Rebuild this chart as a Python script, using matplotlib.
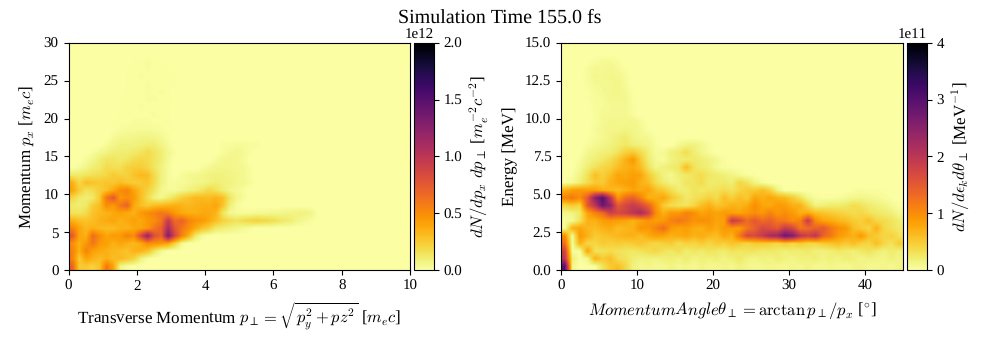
import numpy as np
from matplotlib import pyplot as plt

plt.rcParams["font.family"] = ["Liberation Serif", "DejaVu Serif"]
plt.rcParams["mathtext.fontset"] = "cm"
plt.rcParams["text.hinting"] = "no_hinting"
plt.rcParams["text.hinting_factor"] = 1
plt.rcParams["xtick.labelsize"] = 10.5
plt.rcParams["ytick.labelsize"] = 10.5

# top row first, px from 27 down to 0 in steps of 1, pperp steps of 0.2, units of 1e10
momentum_rows = [
    [0] * 9 + [1, 1, 2, 1, 1],
    [0] * 8 + [1, 1, 1, 2, 1, 1, 1],
    [0] * 8 + [1, 1, 2, 1, 1, 1, 1, 1],
    [0] * 8 + [1, 1, 1, 2, 1, 1, 1, 1],
    [0] * 8 + [1, 1, 1, 2, 1, 2, 1],
    [0] * 7 + [1, 1, 1, 1, 2, 2, 1, 1, 1],
    [0] * 7 + [1, 1, 1, 2, 1, 1, 1, 1],
    [0] * 7 + [1, 1, 1, 1, 1, 2, 1, 1],
    [0] * 6 + [1, 1, 1, 2, 2, 2, 1, 1, 1],
    [0] * 6 + [1, 2, 3, 3, 3, 3, 3, 2, 1, 1],
    [0] * 6 + [3, 5, 5, 6, 7, 7, 6, 4, 2],
    [0] * 5 + [3, 6, 8, 8, 8, 9, 10, 10, 7, 3, 0, 0, 0, 0, 0, 0, 0, 2, 2, 3, 3, 2, 2],
    [0] * 3 + [2, 5, 7, 10, 10, 10, 12, 14, 18, 14, 10, 5, 2, 0, 0, 0, 0, 0, 0, 2, 4, 5, 4, 2],
    [0] * 2 + [3, 6, 10, 14, 14, 12, 14, 18, 20, 18, 14, 10, 4, 0, 0, 0, 0, 0, 0, 3, 5, 6, 5, 3],
    [0, 3, 6, 10, 12, 18, 16, 16, 22, 24, 24, 20, 14, 8, 3, 0, 0, 0, 0, 2, 4, 6, 6, 6, 5, 4, 2],
    [12, 12, 14, 16, 18, 20, 25, 22, 22, 28, 32, 30, 18, 8, 3, 0, 3, 4, 5, 6, 8, 8, 8, 7, 6, 4, 2],
    [35, 20, 30, 28, 25, 28, 26, 30, 26, 24, 25, 28, 18, 8, 3, 3, 3, 4, 6, 6, 8, 10, 8, 8, 6, 5, 3],
    [40, 25, 15, 18, 24, 28, 38, 50, 55, 40, 30, 22, 14, 5, 3, 3, 5, 8, 10, 14, 20, 15, 10, 6, 4, 2],
    [20, 12, 10, 12, 25, 60, 75, 45, 50, 45, 30, 18, 8, 5, 10, 16, 24, 28, 32, 32, 30, 34, 30, 14, 6, 3],
    [12, 10, 12, 25, 30, 50, 45, 60, 70, 38, 30, 25, 30, 32, 34, 36, 34, 32, 34, 36, 36, 40, 28, 10, 3],
    [15, 14, 18, 28, 32, 34, 38, 42, 38, 35, 45, 50, 55, 60, 55, 45, 38, 36, 36, 38, 38, 34, 14, 4, 3, 3, 3, 4, 4, 5, 5, 6, 7, 8, 8, 6],
    [35, 30, 28, 30, 35, 38, 40, 35, 38, 42, 38, 45, 50, 60, 95, 65, 70, 55, 48, 45, 38, 30, 22, 18, 15, 18, 20, 22, 20, 18, 15, 12, 10, 6, 4, 2],
    [55, 40, 32, 35, 32, 30, 30, 35, 34, 38, 40, 45, 60, 70, 110, 75, 60, 50, 38, 28, 22, 12, 10, 8, 6, 4, 2],
    [75, 40, 35, 65, 50, 40, 45, 45, 55, 50, 85, 120, 80, 70, 130, 85, 55, 35, 12, 3],
    [50, 35, 45, 60, 45, 42, 35, 40, 35, 32, 38, 50, 48, 45, 40, 22, 4],
    [55, 35, 55, 42, 38, 35, 32, 30, 28, 35, 34, 28, 14, 4],
    [55, 25, 40, 35, 30, 35, 30, 32, 28, 22, 8, 2],
    [70, 25, 25, 22, 28, 60, 40, 6, 2],
]
momentum_vmax = 200

# top row first, energy from 13.5 down to 0 in steps of 0.5, angle steps of 1 degree, units of 1e9
angle_rows = [
    [0] * 4 + [4, 7, 7, 4],
    [0] * 3 + [5, 9, 8, 10, 7, 2],
    [0] * 3 + [5, 10, 9, 12, 10, 6],
    [0] * 3 + [4, 8, 8, 10, 12, 6],
    [0] * 3 + [2, 6, 8, 10, 12, 8, 2],
    [0] * 3 + [2, 6, 6, 10, 10, 10, 2],
    [0] * 4 + [4, 6, 8, 8, 8, 4],
    [0] * 4 + [4, 8, 8, 8, 10, 4],
    [0] * 4 + [4, 8, 12, 10, 10, 12, 6],
    [0] * 4 + [6, 10, 12, 12, 14, 12, 8, 2],
    [0] * 3 + [2, 5, 8, 14, 18, 22, 14, 10, 8, 3],
    [0] * 3 + [4, 8, 12, 16, 20, 25, 18, 16, 12, 4, 0, 0, 8, 14, 16, 10, 4],
    [0] * 3 + [10, 14, 18, 20, 30, 45, 50, 35, 18, 6, 8, 18, 22, 35, 20, 12, 5],
    [0] * 2 + [5, 14, 20, 25, 35, 50, 70, 90, 50, 22, 8, 5, 16, 20, 22, 24, 20, 16, 10, 4],
    [0] * 2 + [8, 20, 30, 40, 45, 60, 70, 75, 60, 30, 12, 18, 22, 26, 60, 30, 22, 18, 8, 4, 3, 2],
    [0, 3, 14, 30, 60, 45, 60, 80, 75, 85, 80, 50, 30, 15, 10, 20, 24, 30, 35, 26, 22, 18, 14, 8, 4, 2],
    [3, 8, 18, 35, 50, 50, 70, 80, 85, 90, 70, 60, 35, 22, 14, 16, 28, 28, 35, 22, 24, 25, 20, 40, 30, 14, 5],
    [70, 85, 90, 85, 85, 70, 65, 60, 70, 80, 75, 80, 60, 50, 35, 20, 20, 30, 25, 28, 30, 35, 30, 40, 50, 50, 60, 45, 15, 0, 0, 0, 0, 0, 0, 0, 0, 0, 3, 4, 3, 3, 2],
    [110, 120, 100, 150, 250, 300, 200, 90, 130, 140, 110, 70, 70, 80, 55, 40, 25, 30, 35, 45, 35, 60, 45, 60, 50, 80, 70, 80, 70, 65, 50, 30, 12, 5, 3, 3, 4, 8, 10, 12, 10, 8, 5, 2, 0],
    [40, 50, 40, 150, 200, 280, 240, 150, 170, 190, 170, 140, 90, 50, 35, 30, 28, 40, 60, 70, 55, 60, 70, 65, 75, 100, 80, 75, 90, 85, 70, 70, 40, 15, 18, 22, 22, 25, 35, 30, 22, 18, 14, 8, 3],
    [10, 15, 25, 80, 110, 130, 180, 170, 180, 200, 220, 180, 100, 70, 90, 90, 110, 100, 80, 90, 80, 90, 85, 80, 90, 100, 90, 110, 90, 100, 90, 70, 75, 60, 55, 50, 45, 40, 35, 40, 30, 25, 22, 18, 10],
    [5, 8, 30, 70, 70, 85, 90, 85, 80, 70, 80, 95, 85, 90, 110, 120, 110, 95, 100, 95, 80, 85, 190, 170, 130, 150, 130, 140, 120, 115, 100, 110, 190, 100, 80, 75, 65, 60, 50, 45, 60, 40, 35, 30, 20],
    [5, 70, 80, 65, 60, 70, 75, 60, 65, 70, 95, 90, 110, 130, 90, 80, 85, 75, 70, 85, 75, 90, 90, 85, 120, 140, 170, 160, 150, 190, 170, 120, 130, 140, 150, 120, 100, 90, 60, 50, 40, 70, 40, 30, 25],
    [100, 5, 90, 70, 50, 55, 60, 65, 70, 70, 60, 75, 85, 80, 70, 75, 80, 70, 75, 65, 60, 80, 70, 120, 170, 170, 190, 220, 230, 280, 260, 200, 180, 200, 140, 120, 90, 80, 70, 90, 60, 50, 40, 45, 30],
    [130, 5, 70, 40, 40, 50, 45, 50, 45, 50, 55, 45, 40, 45, 50, 35, 45, 40, 50, 40, 50, 45, 55, 50, 40, 50, 50, 45, 40, 50, 40, 50, 40, 40, 50, 55, 60, 50, 60, 45, 40, 60, 40, 30, 50],
    [180, 5, 3, 80, 30, 30, 35, 30, 28, 25, 30, 35, 40, 30, 25, 35, 20, 28, 22, 30, 25, 22, 30, 25, 30, 28, 22, 25, 22, 18, 22, 20, 25, 18, 16, 20, 25, 22, 18, 25, 30, 22, 16, 22, 18],
    [200, 20, 3, 10, 70, 50, 60, 35, 30, 20, 16, 18, 15, 18, 20, 15, 22, 14, 18, 16, 20, 14, 18, 25, 16, 12, 18, 14, 20, 16, 12, 18, 16, 20, 14, 18, 14, 20, 18, 12, 16, 14, 12, 18, 14],
    [300, 10, 0, 2, 2, 30, 50, 60, 40, 16, 10, 12, 8, 10, 14, 10, 12, 8, 14, 10, 8, 14, 10, 16, 12, 8, 10, 12, 10, 8, 12, 10, 14, 8, 10, 12, 10, 8, 12, 14, 8, 10, 12, 8, 14],
]
angle_vmax = 400

momentum_ticks = [0, 0.5, 1.0, 1.5, 2.0]
angle_ticks = [0, 1, 2, 3, 4]


def to_grid(rows, n_rows, n_cols, unit):
    grid = np.zeros((n_rows, n_cols))
    for i, row in enumerate(rows):
        grid[len(rows) - 1 - i, :len(row)] = row
    return grid * unit


H_momentum = to_grid(momentum_rows, 30, 50, 1e10)
H_angle = to_grid(angle_rows, 30, 45, 1e9)

fig = plt.figure(figsize=(10, 3.5), dpi=100)
fig.suptitle("Simulation Time 155.0 fs", fontsize=14.5, y=0.975)

ax0 = fig.add_axes([0.0685, 0.228, 0.3415, 0.65])
cax0 = fig.add_axes([0.414, 0.228, 0.0195, 0.65])
ax1 = fig.add_axes([0.561, 0.228, 0.342, 0.65])
cax1 = fig.add_axes([0.907, 0.228, 0.0195, 0.65])

im0 = ax0.imshow(H_momentum, origin="lower", extent=[0, 10, 0, 30], aspect="auto", cmap="inferno_r",
                 vmin=0, vmax=momentum_vmax * 1e10, interpolation="bilinear")
ax0.set_xlabel(r"Transverse Momentum $p_\perp = \sqrt{p_y^2 + pz^2}$ [$m_e c$]", fontsize=11.9, labelpad=5)
ax0.set_ylabel(r"Momentum $p_x$ [$m_e c$]", fontsize=12, labelpad=5)
ax0.set_xticks([0, 2, 4, 6, 8, 10])
ax0.set_yticks([0, 5, 10, 15, 20, 25, 30])
cb0 = fig.colorbar(im0, cax=cax0, ticks=[t * 1e12 for t in momentum_ticks])
cb0.set_label(r"$dN/dp_x\ dp_\perp$ [$m_e^{-2}c^{-2}$]", fontsize=12)

im1 = ax1.imshow(H_angle, origin="lower", extent=[0, 45, 0, 15], aspect="auto", cmap="inferno_r",
                 vmin=0, vmax=angle_vmax * 1e9, interpolation="bilinear")
ax1.set_xlabel(r"$Momentum Angle \theta_\perp = \arctan{p_\perp/p_x}$ [$^{\circ}$]", fontsize=12, labelpad=5)
ax1.set_ylabel("Energy [MeV]", fontsize=12, labelpad=5)
ax1.set_xticks([0, 10, 20, 30, 40])
ax1.set_yticks([0, 2.5, 5, 7.5, 10, 12.5, 15])
cb1 = fig.colorbar(im1, cax=cax1, ticks=[t * 1e11 for t in angle_ticks])
cb1.set_label(r"$dN/d\epsilon_k d\theta_\perp$ [MeV$^{-1}$]", fontsize=12)

for cb in [cb0, cb1]:
    cb.formatter.set_powerlimits((0, 0))
    cb.update_ticks()

fig.savefig("out.png", dpi=100)
